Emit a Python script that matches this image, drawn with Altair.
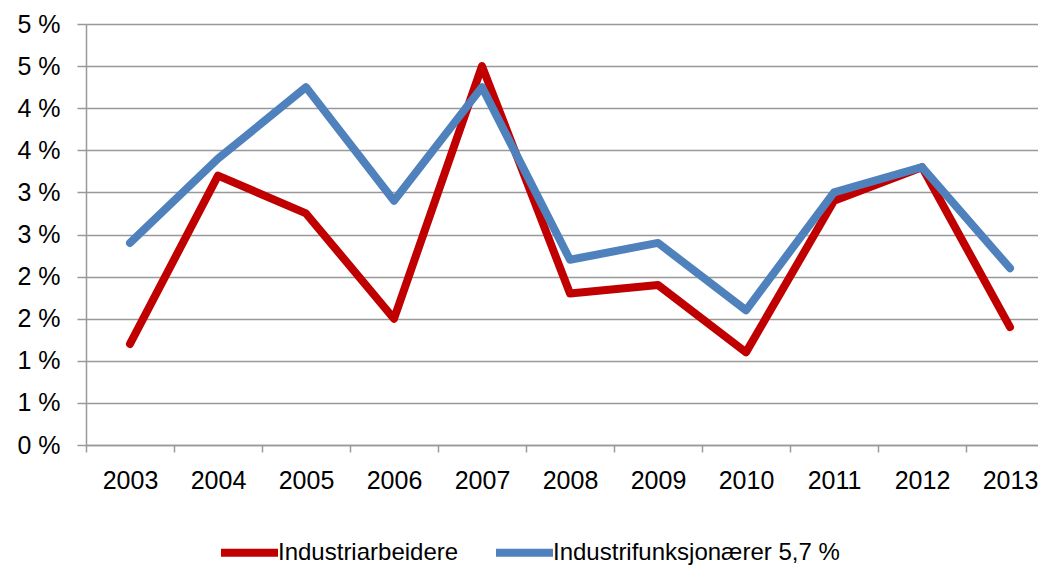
import altair as alt
import pandas as pd

years = ["2003", "2004", "2005", "2006", "2007", "2008", "2009", "2010", "2011", "2012", "2013"]
series_names = ["Industriarbeidere", "Industrifunksjonærer 5,7 %"]
arbeidere = [1.2, 3.2, 2.75, 1.5, 4.5, 1.8, 1.9, 1.1, 2.9, 3.3, 1.4]
funksjonaerer = [2.4, 3.4, 4.25, 2.9, 4.25, 2.2, 2.4, 1.6, 3.0, 3.3, 2.1]
y_ticks = [0, 0.5, 1, 1.5, 2, 2.5, 3, 3.5, 4, 4.5, 5]
y_tick_labels = ["0 %", "1 %", "1 %", "2 %", "2 %", "3 %", "3 %", "4 %", "4 %", "5 %", "5 %"]
colors = ["#C00000", "#4F81BD"]

df = pd.DataFrame(
    {"year": years * 2,
     "value": arbeidere + funksjonaerer,
     "series": [series_names[0]] * len(years) + [series_names[1]] * len(years)}
)

FONT = "Liberation Sans"
PLOT_W = 952
STEP = 88
years_js = "[" + ",".join("'%s'" % y for y in years) + "]"
y_label_expr = "[" + ",".join("'%s'" % s for s in y_tick_labels) + "][round(datum.value*2)]"
x_label_expr = "datum.value % 1 == 0.5 ? " + years_js + "[floor(datum.value)] : ''"
x_tick_values = [k / 2 for k in range(2 * len(years))]

x_enc = alt.X("pos:Q", title=None,
              scale=alt.Scale(domain=[0, PLOT_W / STEP], nice=False, zero=False),
              axis=alt.Axis(values=x_tick_values, labelExpr=x_label_expr,
                            labelAngle=0, grid=False, labelOverlap=False, labelFlush=False,
                            domainColor="#999999", domainWidth=1.5,
                            tickColor="#999999", tickWidth=1.5, tickSize=7,
                            tickOpacity={"condition": {"test": "datum.value % 1 != 0", "value": 0},
                                         "value": 1},
                            labelFont=FONT, labelFontSize=25, labelColor="#000000",
                            labelPadding=16))
y_enc = alt.Y("value:Q", title=None,
              scale=alt.Scale(domain=[0, 5], nice=False),
              axis=alt.Axis(values=y_ticks, labelExpr=y_label_expr,
                            grid=True, gridColor="#999999", gridWidth=1.5,
                            domainColor="#999999", domainWidth=1.5,
                            tickColor="#999999", tickWidth=1.5, tickSize=9,
                            labelFont=FONT, labelFontSize=25, labelColor="#000000",
                            labelPadding=17))
color_enc = alt.Color("series:N",
                      scale=alt.Scale(domain=series_names, range=colors),
                      legend=alt.Legend(title=None, orient="none", direction="horizontal",
                                        legendX=131, legendY=496,
                                        symbolType="stroke", symbolSize=3249,
                                        symbolStrokeWidth=8, labelOffset={"expr": "-4"},
                                        columnPadding=21, labelLimit=600,
                                        labelFont=FONT, labelFontSize=24,
                                        labelColor="#000000"))

base = alt.Chart(df).transform_calculate(
    pos="indexof(" + years_js + ", datum.year) + 0.5"
).mark_line(strokeWidth=8, strokeCap="round", strokeJoin="round")
red_line = base.transform_filter(alt.datum.series == series_names[0]).encode(
    x=x_enc, y=y_enc, color=color_enc)
blue_line = base.transform_filter(alt.datum.series == series_names[1]).encode(
    x=x_enc, y=y_enc, color=color_enc)

chart = alt.layer(red_line, blue_line).properties(
    width=PLOT_W, height=421,
    autosize=alt.AutoSizeParams(type="none"),
    padding={"left": 78, "top": 16, "right": 0, "bottom": 124},
).configure_view(stroke=None).configure(background="#ffffff")

chart.save("out.html", embed_options={"renderer": "svg", "actions": False})
